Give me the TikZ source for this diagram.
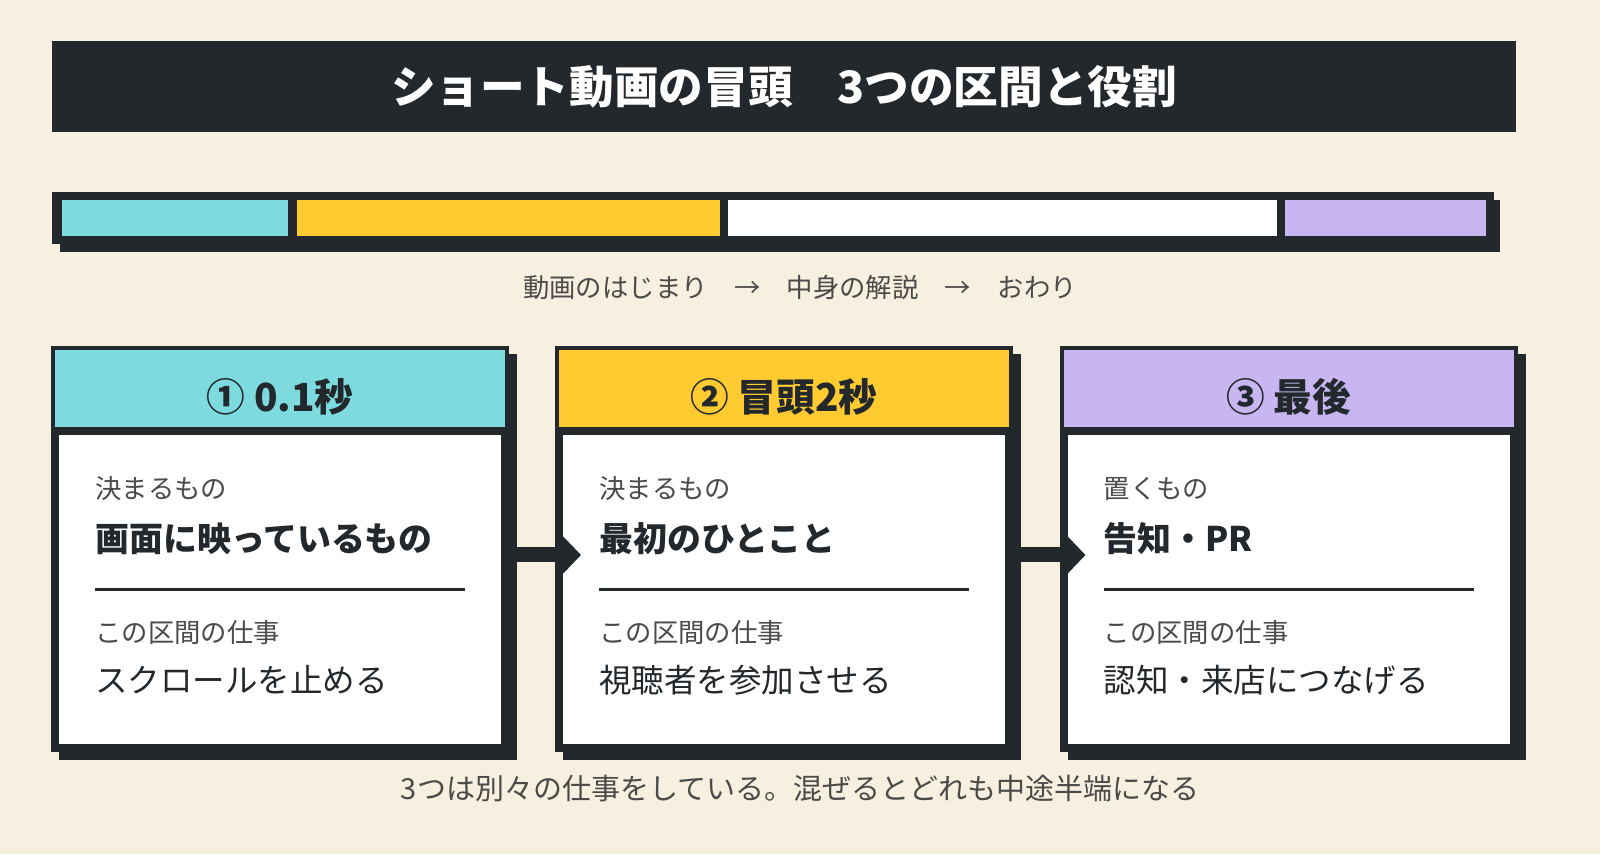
\documentclass[tikz,border=0pt]{standalone}
\usepackage{fontspec}
\setmainfont{Noto Sans CJK JP}
\usetikzlibrary{arrows.meta}
\definecolor{bg}{HTML}{F7F0E0}
\definecolor{ink}{HTML}{23282C}
\definecolor{cyanc}{HTML}{7DDBE0}
\definecolor{yellowc}{HTML}{FFCB30}
\definecolor{purplec}{HTML}{C8B6F2}
\definecolor{greytext}{HTML}{4A4A48}
\tikzset{
  card/.style={draw=ink, line width=0.16cm, fill=white, minimum width=9cm, minimum height=7.96cm, inner sep=0pt},
  shadow/.style={fill=ink, minimum width=9.16cm, minimum height=8.12cm, inner sep=0pt},
  seg/.style={inner sep=0pt, minimum height=0.72cm},
  small/.style={anchor=west, text=greytext, font=\fontsize{15}{17}\selectfont, inner sep=0pt},
  big/.style={anchor=west, text=ink, font=\bfseries\fontsize{19.3}{21}\selectfont, inner sep=0pt},
  job/.style={anchor=west, text=ink, font=\fontsize{18.5}{20}\selectfont, inner sep=0pt},
  head/.style={text=ink, font=\bfseries\fontsize{22}{24}\selectfont},
  flow/.style={ink, line width=0.3cm, -{Triangle[length=0.42cm,width=0.85cm]}}
}
\begin{document}
\begin{tikzpicture}
  \fill[bg] (0,0) rectangle (32,17.08);
  \useasboundingbox (0,0) rectangle (32,17.08);

  % Title
  \node[fill=ink, minimum width=29.28cm, minimum height=1.82cm, inner sep=0pt,
        text=white, font=\bfseries\fontsize{25.4}{27}\selectfont] (title) at (15.68,15.34)
        {ショート動画の冒頭\quad 3つの区間と役割};

  % Timeline bar
  \fill[ink] (1.20,12.04) rectangle (30.00,13.08);
  \fill[ink] (1.04,12.20) rectangle (29.88,13.24);
  \node[seg, fill=cyanc, minimum width=4.52cm] (s1) at (3.50,12.72) {};
  \node[seg, fill=yellowc, minimum width=8.46cm] (s2) at (10.17,12.72) {};
  \node[seg, fill=white, minimum width=10.98cm] (s3) at (20.05,12.72) {};
  \node[seg, fill=purplec, minimum width=4.02cm] (s4) at (27.71,12.72) {};
  \node[text=greytext, font=\fontsize{15}{17}\selectfont] (flowtext) at (16.0,11.32)
        {動画のはじまり\quad →\quad 中身の解説\quad →\quad おわり};

  % Cards
  \foreach \n/\x/\col/\hd/\ka/\kb/\ja/\jb in {
      1/5.60/cyanc/{① 0.1秒}/決まるもの/画面に映っているもの/この区間の仕事/スクロールを止める,
      2/15.68/yellowc/{② 冒頭2秒}/決まるもの/最初のひとこと/この区間の仕事/視聴者を参加させる,
      3/25.77/purplec/{③ 最後}/置くもの/告知・PR/この区間の仕事/認知・来店につなげる} {
    \node[shadow] at (\x+0.16,5.94) {};
    \node[card] (c\n) at (\x,6.10) {};
    \fill[\col] ([xshift=0.08cm,yshift=-0.08cm]c\n.north west) rectangle ([xshift=-0.08cm,yshift=-1.7cm]c\n.north east);
    \draw[ink, line width=0.16cm] ([yshift=-1.7cm]c\n.north west) -- ([yshift=-1.7cm]c\n.north east);
    \node[head] (h\n) at (\x,9.14) {\hd};
    \node[small] (ka\n) at (\x-3.70,7.30) {\ka};
    \node[big] (kb\n) at (\x-3.70,6.30) {\kb};
    \draw[ink, line width=0.06cm] (\x-3.70,5.28) -- (\x+3.70,5.28);
    \node[small] (ja\n) at (\x-3.70,4.42) {\ja};
    \node[job] (jb\n) at (\x-3.70,3.48) {\jb};
  }

  % Arrows
  \draw[flow] ([yshift=-0.12cm]c1.east) ++(0.16,0) coordinate (a1) -- ([xshift=0.52cm,yshift=-0.12cm]c2.west);
  \draw[flow] ([yshift=-0.12cm]c2.east) ++(0.16,0) coordinate (a2) -- ([xshift=0.52cm,yshift=-0.12cm]c3.west);

  % Footer
  \node[text=greytext, font=\fontsize{16.5}{18}\selectfont] (foot) at (16.0,1.30)
        {3つは別々の仕事をしている。混ぜるとどれも中途半端になる};
\end{tikzpicture}
\end{document}
